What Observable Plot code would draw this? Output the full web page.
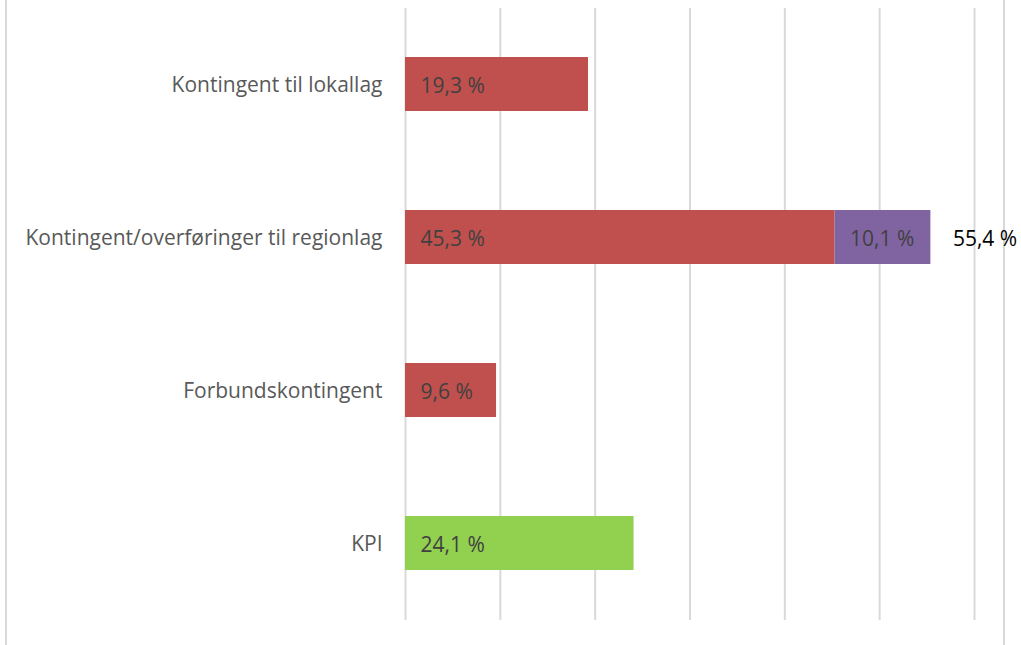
<!DOCTYPE html>
<html>
<head>
<meta charset="utf-8">
<script src="https://cdn.jsdelivr.net/npm/d3@7"></script>
<script src="https://cdn.jsdelivr.net/npm/@observablehq/plot@0.6"></script>
<style>
  html, body { margin: 0; padding: 0; background: #fff; }
  #wrap { position: relative; width: 1021px; height: 645px; overflow: hidden; }
  #frame { position: absolute; left: 5px; top: -2px; width: 1000px; height: 660px;
           border-left: 2px solid #d9d9d9; border-right: 2px solid #d9d9d9; box-sizing: border-box; }
  #chart { position: absolute; left: 0; top: 0; }
</style>
</head>
<body>
<div id="wrap"><div id="frame"></div><div id="chart"></div></div>
<script>
const categories = ["Kontingent til lokallag", "Kontingent/overføringer til regionlag", "Forbundskontingent", "KPI"];
const baseSeries = ["Kontingent", "Kontingent", "Kontingent", "KPI"];
const baseValues = [19.3, 45.3, 9.6, 24.1];
const extraValues = [0, 10.1, 0, 0];
const totalValues = [null, 55.4, null, null];
const seriesNames = ["Kontingent", "Tillegg", "KPI"];
const seriesColors = ["#C0504D", "#8064A2", "#92D050"];
const xTicks = [0, 10, 20, 30, 40, 50, 60];

const fmt = v => v.toFixed(1).replace(".", ",") + " %";

const rows = [];
categories.forEach((c, i) => {
  rows.push({cat: c, series: baseSeries[i], value: baseValues[i]});
  if (extraValues[i] > 0) rows.push({cat: c, series: "Tillegg", value: extraValues[i]});
});
const totals = categories.map((c, i) => ({cat: c, total: totalValues[i]})).filter(d => d.total != null);

const font = "'Open Sans', sans-serif";
const fs = 21;

const chart = Plot.plot({
  width: 1021,
  height: 645,
  marginTop: 8,
  marginBottom: 25,
  marginLeft: 405,
  marginRight: 47,
  style: {fontFamily: font, background: "transparent", overflow: "visible"},
  x: {domain: [0, 60], axis: null},
  y: {domain: categories, paddingInner: 0.647, paddingOuter: 0.3235, label: null},
  color: {domain: seriesNames, range: seriesColors},
  marks: [
    Plot.ruleX(xTicks, {stroke: "#d9d9d9", strokeWidth: 2}),
    Plot.barX(rows, Plot.stackX({x: "value", y: "cat", fill: "series", z: "series", order: seriesNames})),
    Plot.text(rows, Plot.stackX1({x: "value", y: "cat", z: "series", order: seriesNames, text: d => fmt(d.value),
      textAnchor: "start", dx: 15, dy: 2, fill: "#404040", fontSize: fs})),
    Plot.text(totals, {x: "total", y: "cat", text: d => fmt(d.total), textAnchor: "start", dx: 22, dy: 2,
      fill: "#000", fontSize: fs}),
    Plot.axisY({tickSize: 0, tickPadding: 23, dy: 1, fontSize: fs, color: "#595959", label: null})
  ]
});
document.getElementById("chart").appendChild(chart);
</script>
</body>
</html>
